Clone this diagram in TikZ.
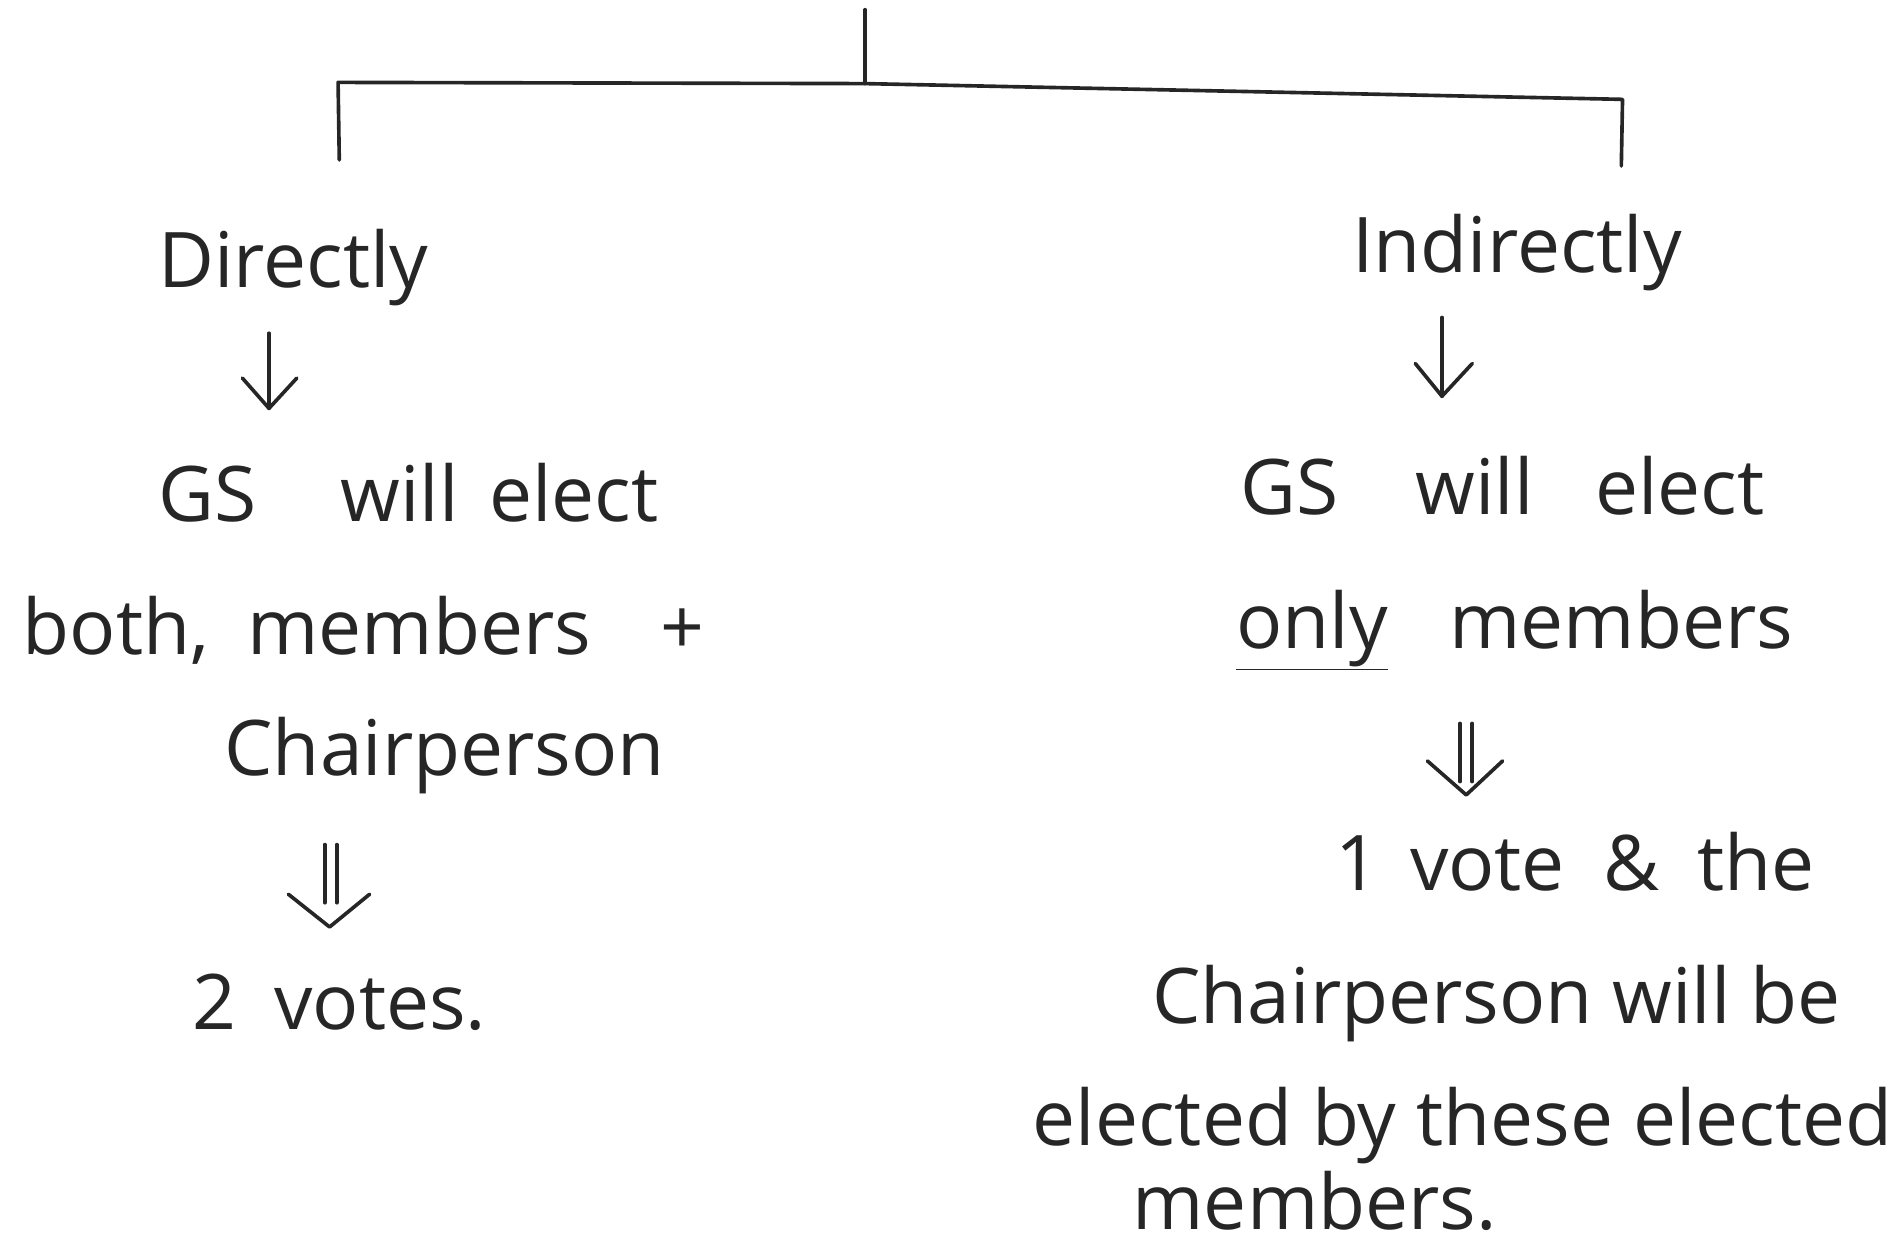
\documentclass[tikz,border=0pt]{standalone}
\usepackage{fontspec}
\setmainfont{Open Sans}
\usetikzlibrary{arrows.meta}
\begin{document}
\begin{tikzpicture}[x=0.6pt,y=-0.6pt,
  ink/.style={line width=1.8pt,line cap=round,line join=round,draw=black!85},
  txt/.style={anchor=base,inner sep=0pt,font=\fontsize{38}{44}\selectfont,text=black!85},
  vhead/.style={ink}]
\useasboundingbox (0,0) rectangle (1568,1032);
% tree lines
\coordinate (top) at (714,8);
\coordinate (mid) at (714,69);
\coordinate (lc) at (279,68);
\coordinate (rc) at (1339,82);
\coordinate (lb) at (280,132);
\coordinate (rb) at (1338,137);
\draw[ink] (top) -- (mid);
\draw[ink] (lb) -- (lc) -- (mid) -- (rc) -- (rb);

% left branch
\node[txt] (dir) at (242,237) {Directly};
\node[txt] (gsl) at (337,430) {GS\hspace{1.1em}will\hspace{0.4em}elect};
\node[txt] (both) at (300,540) {both,\hspace{0.5em}members\hspace{0.9em}+};
\node[txt] (chl) at (367,640) {Chairperson};
\node[txt] (two) at (280,850) {2\hspace{0.5em}votes.};

% right branch
\node[txt] (ind) at (1252,225) {Indirectly};
\node[txt] (gsr) at (1240,425) {GS\hspace{1em}will\hspace{0.8em}elect};
\node[txt] (only) at (1250,535) {\underline{only}\hspace{0.8em}members};
\node[txt] (one) at (1300,735) {1\hspace{0.4em}vote\hspace{0.5em}\&\hspace{0.5em}the};
\node[txt] (chr) at (1235,845) {Chairperson will be};
\node[txt] (ele) at (1207,945) {elected by these elected};
\node[txt] (mem) at (1085,1015) {members.};

% single arrows
\coordinate (a1s) at (222,275);
\coordinate (a1e) at (222,337);
\draw[ink] (a1s) -- (a1e);
\draw[vhead] (200,312) -- (a1e) -- (245,312);

\coordinate (a2s) at (1190,262);
\coordinate (a2e) at (1190,327);
\draw[ink] (a2s) -- (a2e);
\draw[vhead] (1168,300) -- (a2e) -- (1215,300);

% double arrows
\coordinate (d1s) at (273,697);
\coordinate (d1e) at (273,745);
\draw[ink] ([xshift=-3pt]d1s) -- ([xshift=-3pt]d1e);
\draw[ink] ([xshift=3pt]d1s) -- ([xshift=3pt]d1e);
\draw[vhead] (238,738) -- (272,765) -- (305,738);

\coordinate (d2s) at (1210,597);
\coordinate (d2e) at (1210,645);
\draw[ink] ([xshift=-3pt]d2s) -- ([xshift=-3pt]d2e);
\draw[ink] ([xshift=3pt]d2s) -- ([xshift=3pt]d2e);
\draw[vhead] (1178,628) -- (1210,656) -- (1240,628);
\end{tikzpicture}
\end{document}
